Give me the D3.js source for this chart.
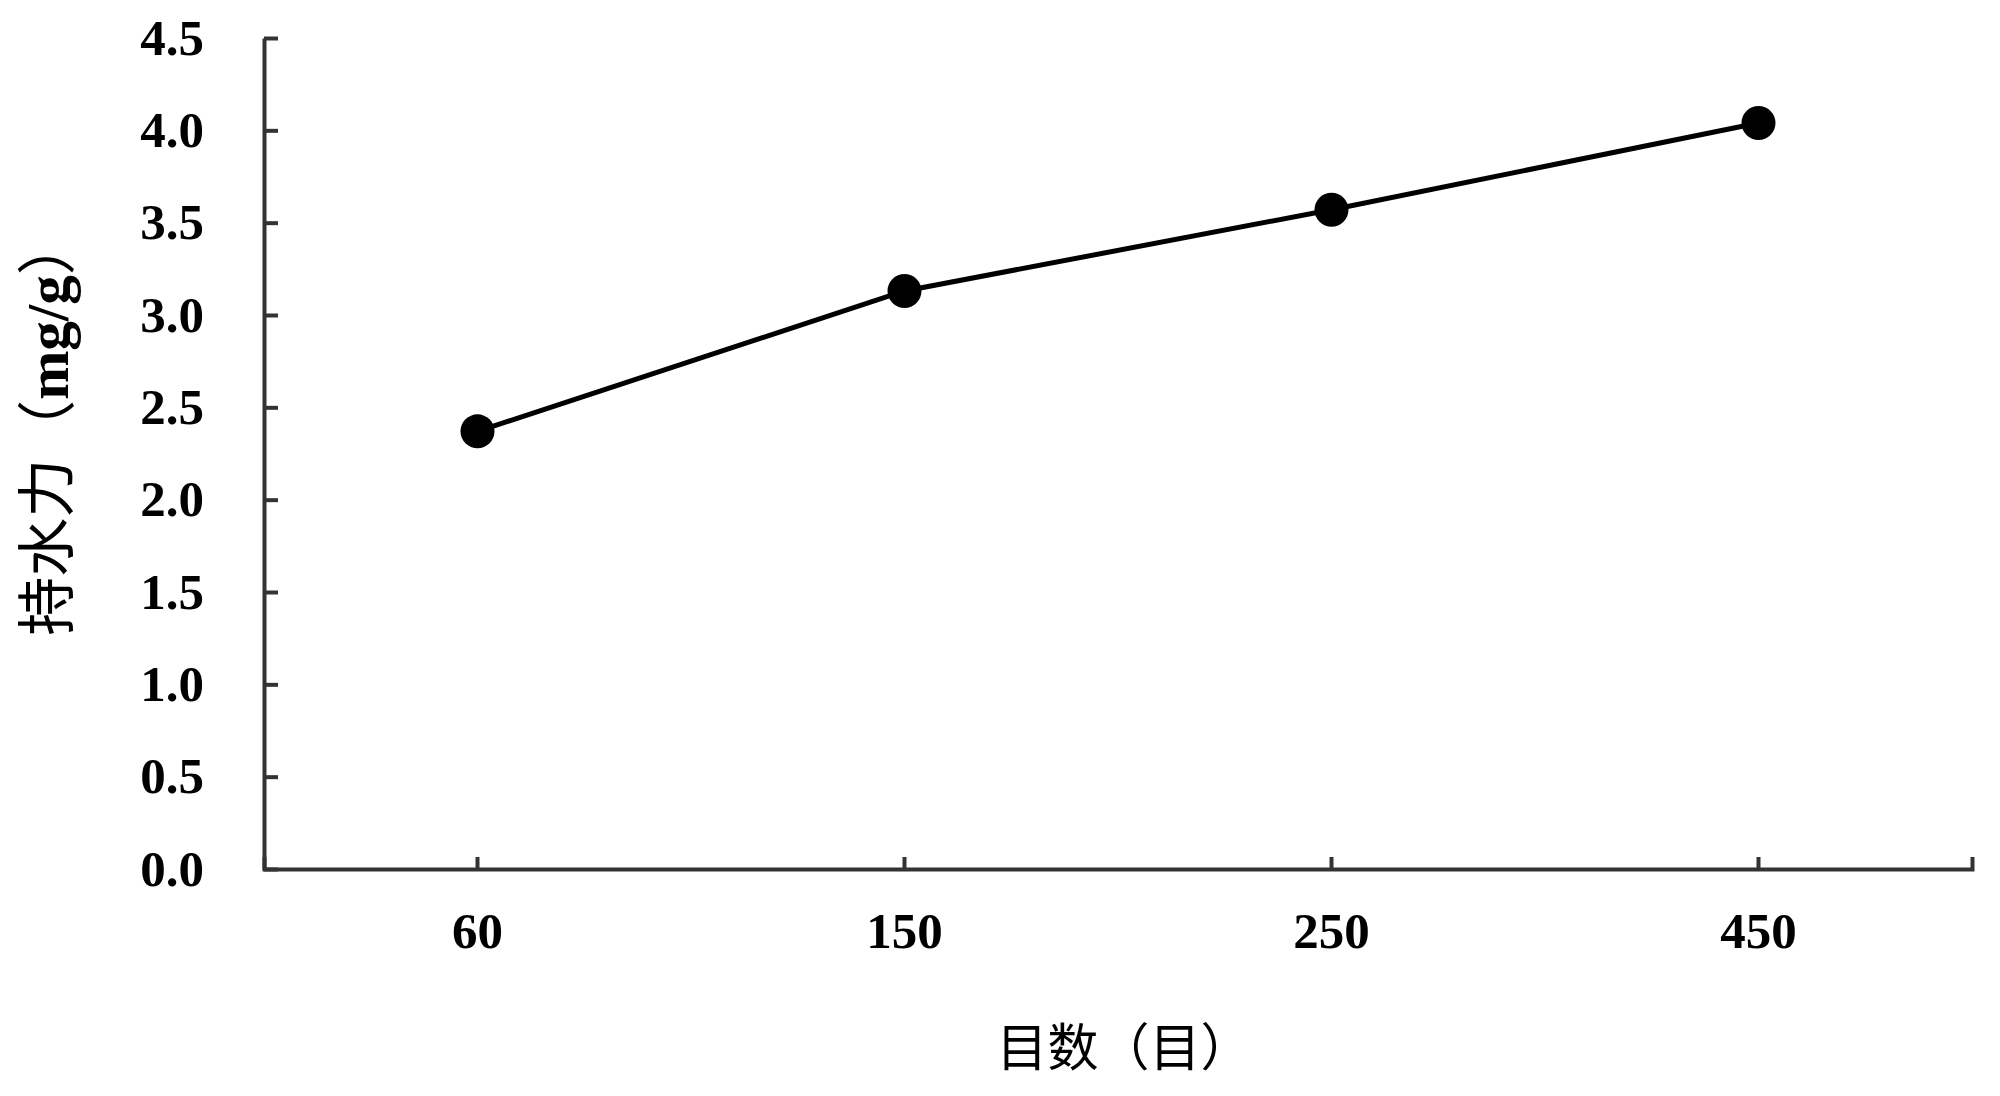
<!DOCTYPE html>
<html>
<head>
<meta charset="utf-8">
<script src="https://cdn.jsdelivr.net/npm/d3@7"></script>
<style>
  html, body { margin: 0; padding: 0; background: #fff; }
  svg { display: block; }
</style>
</head>
<body>
<div id="chart"></div>
<script>
// Data
const meshSizes = ["60", "150", "250", "450"];
const waterHolding = [2.37, 3.13, 3.57, 4.04];
const yTicks = [0, 0.5, 1.0, 1.5, 2.0, 2.5, 3.0, 3.5, 4.0, 4.5];
const xTitle = "目数（目）";
const yTitleCn = "持水力（";
const yTitleUnit = "mg/g";
const yTitleEnd = "）";

const width = 2000, height = 1096;
const plot = { left: 264, right: 1972, top: 38, bottom: 869 };
const latin = "'Liberation Serif', 'Times New Roman', serif";
const cjk = "'Noto Sans CJK SC', 'Liberation Serif', serif";

const svg = d3.select("#chart")
  .append("svg")
  .attr("width", width)
  .attr("height", height);

const x = d3.scaleBand()
  .domain(meshSizes)
  .range([plot.left, plot.right])
  .padding(0);

const y = d3.scaleLinear()
  .domain([0, 4.5])
  .range([plot.bottom, plot.top]);

// y axis, ticks pointing inward
const yAxis = svg.append("g")
  .attr("transform", `translate(${plot.left},0)`)
  .call(d3.axisLeft(y)
    .tickValues(yTicks)
    .tickFormat(d3.format(".1f"))
    .tickSizeInner(-14)
    .tickSizeOuter(0)
    .tickPadding(60));

// x axis
const xAxis = svg.append("g")
  .attr("transform", `translate(0,${plot.bottom})`)
  .call(d3.axisBottom(x)
    .tickSizeInner(-12)
    .tickSizeOuter(-12)
    .tickPadding(43));

[yAxis, xAxis].forEach(ax => {
  ax.select(".domain").attr("stroke", "#333").attr("stroke-width", 4);
  ax.selectAll(".tick line").attr("stroke", "#333").attr("stroke-width", 4);
  ax.selectAll(".tick text")
    .attr("fill", "#000")
    .style("font-family", latin)
    .style("font-weight", "bold")
    .style("font-size", "51px");
});

// data line
const pts = meshSizes.map((m, i) => ({ m, v: waterHolding[i] }));
const cx = d => x(d.m) + x.bandwidth() / 2;

svg.append("path")
  .datum(pts)
  .attr("fill", "none")
  .attr("stroke", "#000")
  .attr("stroke-width", 5)
  .attr("d", d3.line().x(cx).y(d => y(d.v)));

svg.selectAll("circle.pt")
  .data(pts)
  .join("circle")
  .attr("class", "pt")
  .attr("cx", cx)
  .attr("cy", d => y(d.v))
  .attr("r", 17)
  .attr("fill", "#000");

// axis titles
svg.append("text")
  .attr("x", 1124)
  .attr("y", 1066)
  .attr("text-anchor", "middle")
  .style("font-family", cjk)
  .style("font-size", "51px")
  .attr("fill", "#000")
  .text(xTitle);

const yt = svg.append("text")
  .attr("transform", "translate(68,426) rotate(-90)")
  .attr("text-anchor", "middle")
  .style("font-size", "59px")
  .attr("fill", "#000");
yt.append("tspan").style("font-family", cjk).text(yTitleCn);
yt.append("tspan").style("font-family", latin).style("font-weight", "bold").text(yTitleUnit);
yt.append("tspan").style("font-family", cjk).text(yTitleEnd);
</script>
</body>
</html>
